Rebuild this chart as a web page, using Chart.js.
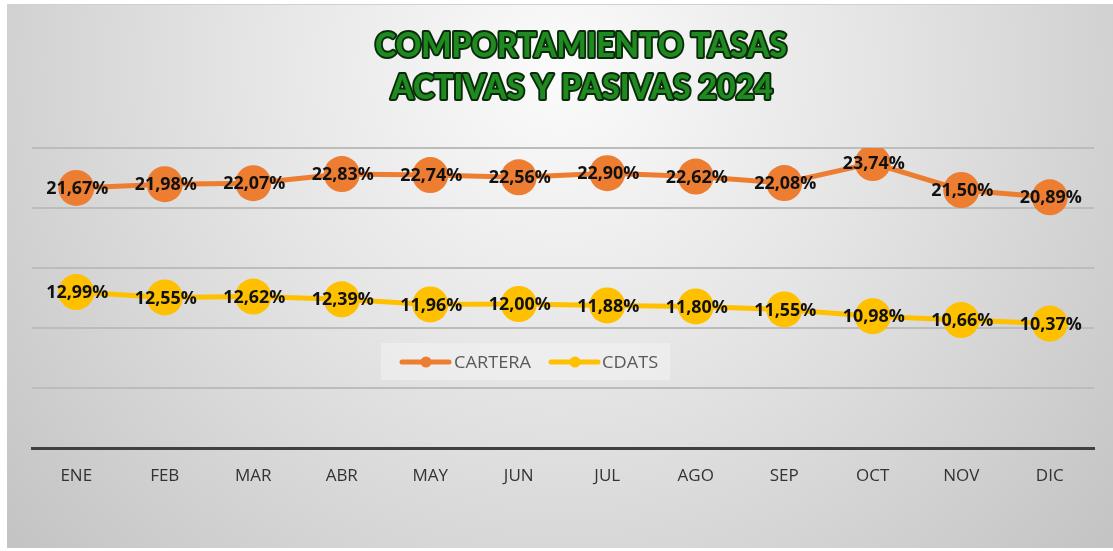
<!DOCTYPE html>
<html>
<head>
<meta charset="utf-8">
<script src="https://cdn.jsdelivr.net/npm/chart.js@4"></script>
<style>
html,body{margin:0;padding:0;background:#fff;}
#wrap{width:1113px;height:551px;position:relative;}
</style>
</head>
<body>
<div id="wrap"><canvas id="c" width="1113" height="551"></canvas></div>
<script>
const months = ['ENE','FEB','MAR','ABR','MAY','JUN','JUL','AGO','SEP','OCT','NOV','DIC'];
const cartera = [21.67,21.98,22.07,22.83,22.74,22.56,22.90,22.62,22.08,23.74,21.50,20.89];
const cdats = [12.99,12.55,12.62,12.39,11.96,12.00,11.88,11.80,11.55,10.98,10.66,10.37];
const titleLines = ['COMPORTAMIENTO TASAS','ACTIVAS Y PASIVAS 2024'];
const seriesNames = ['CARTERA','CDATS'];
const yTicks = {min:0, max:25, step:5};

const ORANGE = '#ED7D31', YELLOW = '#FFC000';

const bgPlugin = {
  id:'bg',
  beforeDraw(chart){
    const ctx = chart.ctx;
    ctx.save();
    ctx.fillStyle = '#ffffff';
    ctx.fillRect(0,0,chart.width,chart.height);
    const g = ctx.createRadialGradient(560,70,0,560,70,720);
    g.addColorStop(0,'#fbfbfb');
    g.addColorStop(0.45,'#e4e4e4');
    g.addColorStop(1,'#c4c4c4');
    ctx.fillStyle = g;
    ctx.fillRect(7,4,1106,544);
    ctx.strokeStyle = '#d0d0d0';
    ctx.lineWidth = 1;
    ctx.beginPath(); ctx.moveTo(7,4.5); ctx.lineTo(1113,4.5); ctx.stroke();
    ctx.restore();
  }
};

const titlePlugin = {
  id:'ttl',
  afterDraw(chart){
    const ctx = chart.ctx;
    ctx.save();
    ctx.font = '900 34px Lato, "Open Sans", sans-serif';
    ctx.textAlign = 'center';
    ctx.textBaseline = 'middle';
    ctx.lineJoin = 'round';
    const targets = [[581,46,412],[582,88,382]];
    titleLines.forEach((t,i)=>{
      const [cx,cy,w] = targets[i];
      const m = ctx.measureText(t).width;
      ctx.save();
      ctx.translate(cx,cy);
      ctx.scale(w/m,1);
      ctx.strokeStyle = '#0b2a0b';
      ctx.lineWidth = 4;
      ctx.strokeText(t,0,0);
      ctx.fillStyle = '#1f8a1f';
      ctx.fillText(t,0,0);
      ctx.restore();
    });
    ctx.restore();
  }
};

const labelPlugin = {
  id:'lbl',
  afterDatasetsDraw(chart){
    const ctx = chart.ctx;
    ctx.save();
    ctx.font = 'bold 18px "Open Sans", sans-serif';
    ctx.textAlign = 'center';
    ctx.textBaseline = 'middle';
    ctx.fillStyle = '#111';
    const sc = 62/ctx.measureText('21,67%').width;
    chart.data.datasets.forEach((ds,di)=>{
      const meta = chart.getDatasetMeta(di);
      meta.data.forEach((pt,i)=>{
        const s = ds.data[i].toFixed(2).replace('.',',')+'%';
        ctx.save();
        ctx.translate(pt.x+1,pt.y+1);
        ctx.scale(sc,1);
        ctx.fillText(s,0,0);
        ctx.restore();
      });
    });
    ctx.restore();
  }
};

const legendPlugin = {
  id:'lgd',
  afterDraw(chart){
    const ctx = chart.ctx;
    ctx.save();
    ctx.fillStyle = 'rgba(255,255,255,0.3)';
    ctx.fillRect(381,343,289,37);
    const items = [[402,454],[551,602]];
    ctx.font = '17px "Open Sans", sans-serif';
    ctx.textBaseline = 'middle';
    const sc = 77/ctx.measureText('CARTERA').width;
    chart.data.datasets.forEach((ds,i)=>{
      const [lx,tx] = items[i];
      ctx.strokeStyle = ds.borderColor;
      ctx.lineWidth = 5;
      ctx.lineCap = 'round';
      ctx.beginPath(); ctx.moveTo(lx,362); ctx.lineTo(lx+47,362); ctx.stroke();
      ctx.fillStyle = ds.borderColor;
      ctx.beginPath(); ctx.arc(lx+24,362,5.5,0,Math.PI*2); ctx.fill();
      ctx.fillStyle = '#595959';
      ctx.save();
      ctx.translate(tx,363);
      ctx.scale(sc,1);
      ctx.fillText(ds.label,0,0);
      ctx.restore();
    });
    ctx.restore();
  }
};

new Chart(document.getElementById('c'),{
  type:'line',
  data:{
    labels:months,
    datasets:[
      {label:seriesNames[0],data:cartera,borderColor:ORANGE,backgroundColor:ORANGE,borderWidth:5,pointRadius:18,pointHoverRadius:18,pointBorderWidth:0,pointBackgroundColor:ORANGE,tension:0},
      {label:seriesNames[1],data:cdats,borderColor:YELLOW,backgroundColor:YELLOW,borderWidth:5,pointRadius:18,pointHoverRadius:18,pointBorderWidth:0,pointBackgroundColor:YELLOW,tension:0}
    ]
  },
  options:{
    responsive:false,
    animation:false,
    events:[],
    layout:{padding:{left:32,right:19,top:148,bottom:0}},
    plugins:{legend:{display:false},title:{display:false},tooltip:{enabled:false}},
    scales:{
      x:{
        offset:true,
        grid:{display:false,drawTicks:false},
        border:{display:true,color:'#404040',width:3},
        ticks:{color:'#333333',font:{family:'"Open Sans", sans-serif',size:17},padding:18,maxRotation:0},
        afterFit(s){ s.height = 103; }
      },
      y:{
        min:yTicks.min,max:yTicks.max,
        ticks:{display:false,stepSize:yTicks.step},
        grid:{color:'#bcbcbc',lineWidth:2,drawTicks:false},
        border:{display:false},
        afterFit(s){ s.width = 0; }
      }
    }
  },
  plugins:[bgPlugin,titlePlugin,labelPlugin,legendPlugin]
});
</script>
</body>
</html>
